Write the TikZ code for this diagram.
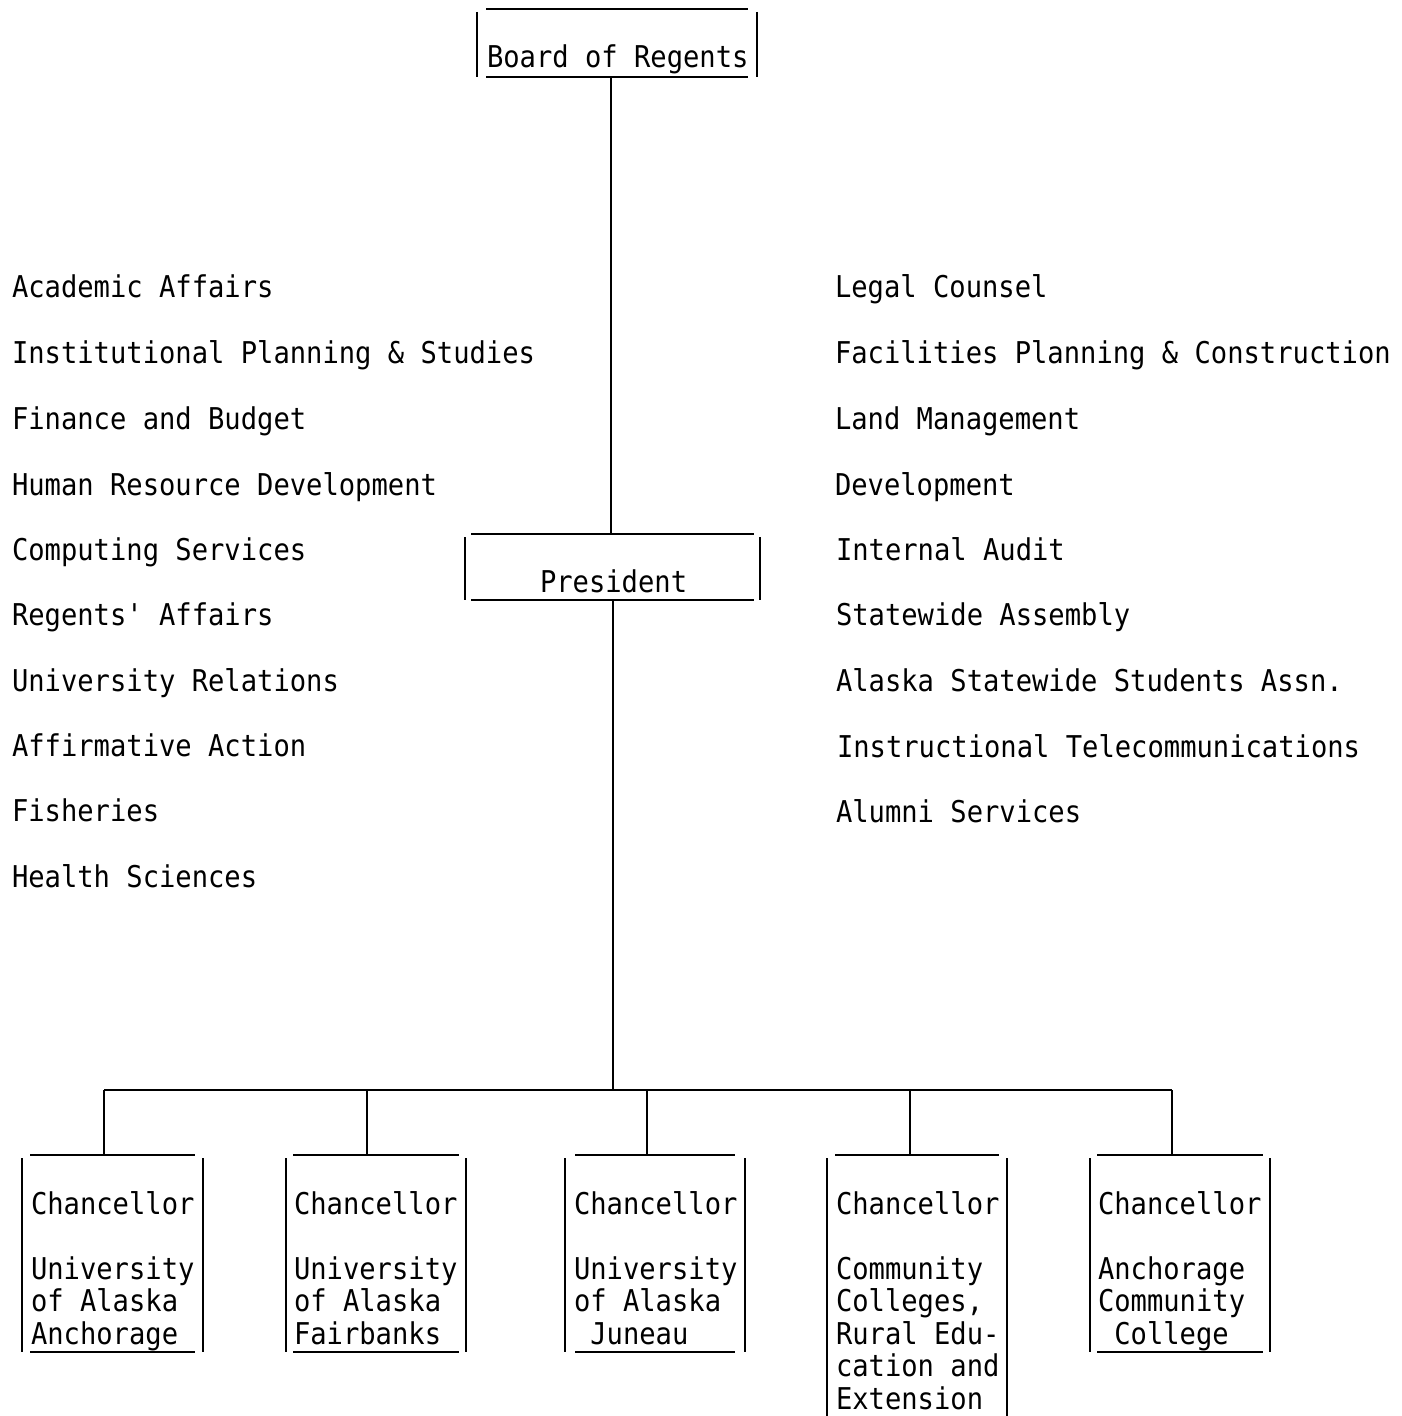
\documentclass[tikz,border=0pt]{standalone}
\usepackage{fontspec}
\newfontfamily\tw[FakeStretch=0.905]{DejaVu Sans Mono}
\begin{document}
\begin{tikzpicture}[x={(0.5pt,0)},y={(0,-0.5pt)},
  ln/.style={line width=1.1pt,line cap=butt},
  txt/.style={inner sep=0pt,outer sep=0pt,anchor=base west,align=left,
    font=\tw\fontsize{15}{16.25}\selectfont}]
\useasboundingbox[fill=white] (0,0) rectangle (1401,1416);
\newcommand\orgbox[7]{% name, xl, xr, ytop, ybottom, inset, draw bottom (1/0)
  \draw[ln] (#2+#6,#4) -- (#3-#6,#4);
  \draw[ln] (#2,#4+3) -- (#2,#5);
  \draw[ln] (#3,#4+3) -- (#3,#5);
  \ifnum#7=1 \draw[ln] (#2+#6,#5) -- (#3-#6,#5);\fi
}
% Board of Regents
\orgbox{board}{477}{757}{9}{77}{9}{1}
\node[txt] (board) at (487,68) {Board of Regents};
\coordinate (board-b) at (611,77);
% President
\orgbox{pres}{465}{760}{534}{600}{6}{1}
\node[txt] (pres) at (540,592) {President};
\coordinate (pres-t) at (611,534);
\coordinate (pres-b) at (613,600);
\draw[ln] (board-b) -- (pres-t);
% bus
\coordinate (bus) at (613,1090);
\draw[ln] (pres-b) -- (bus);
\coordinate (d1) at (104,1090);
\coordinate (d5) at (1172,1090);
\draw[ln] (d1) -- (d5);
% left list
\node[txt] (l1) at (12,298) {Academic Affairs};
\node[txt] (l2) at (12,364) {Institutional Planning \& Studies};
\node[txt] (l3) at (12,430) {Finance and Budget};
\node[txt] (l4) at (12,495) {Human Resource Development};
\node[txt] (l5) at (12,560) {Computing Services};
\node[txt] (l6) at (12,625) {Regents' Affairs};
\node[txt] (l7) at (12,691) {University Relations};
\node[txt] (l8) at (12,756) {Affirmative Action};
\node[txt] (l9) at (12,821) {Fisheries};
\node[txt] (l10) at (12,887) {Health Sciences};
% right list
\node[txt] (r1) at (835,298) {Legal Counsel};
\node[txt] (r2) at (835,364) {Facilities Planning \& Construction};
\node[txt] (r3) at (835,430) {Land Management};
\node[txt] (r4) at (835,495) {Development};
\node[txt] (r5) at (836,560) {Internal Audit};
\node[txt] (r6) at (836,625) {Statewide Assembly};
\node[txt] (r7) at (836,691) {Alaska Statewide Students Assn.};
\node[txt] (r8) at (837,757) {Instructional Telecommunications};
\node[txt] (r9) at (836,822) {Alumni Services};
% chancellor boxes
\orgbox{c1}{22}{203}{1155}{1352}{8}{1}
\orgbox{c2}{286}{466}{1155}{1352}{7}{1}
\orgbox{c3}{565}{745}{1155}{1352}{10}{1}
\orgbox{c4}{827}{1007}{1155}{1416}{8}{0}
\orgbox{c5}{1090}{1270}{1155}{1352}{7}{1}
\coordinate (c1-t) at (104,1155);
\coordinate (c2-t) at (367,1155);
\coordinate (c3-t) at (647,1155);
\coordinate (c4-t) at (910,1155);
\coordinate (c5-t) at (1172,1155);
\draw[ln] (d1) -- (c1-t);
\draw[ln] (c2-t |- bus) -- (c2-t);
\draw[ln] (c3-t |- bus) -- (c3-t);
\draw[ln] (c4-t |- bus) -- (c4-t);
\draw[ln] (d5) -- (c5-t);
% multi-line nodes: base anchor is the baseline of the last line
\node[txt] (c1) at (31,1344) {Chancellor\\[16.25pt]University\\of Alaska\\Anchorage};
\node[txt] (c2) at (294,1344) {Chancellor\\[16.25pt]University\\of Alaska\\Fairbanks};
\node[txt] (c3) at (574,1344) {Chancellor\\[16.25pt]University\\of Alaska\\\ Juneau};
\node[txt] (c4) at (836,1409) {Chancellor\\[16.25pt]Community\\Colleges,\\Rural Edu-\\cation and\\Extension};
\node[txt] (c5) at (1098,1344) {Chancellor\\[16.25pt]Anchorage\\Community\\\ College};
\end{tikzpicture}
\end{document}
